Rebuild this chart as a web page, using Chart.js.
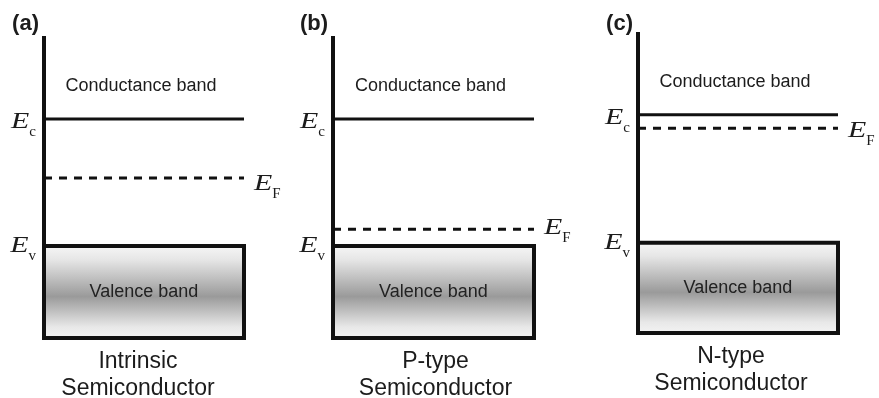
<!DOCTYPE html>
<html>
<head>
<meta charset="utf-8">
<script src="https://cdn.jsdelivr.net/npm/chart.js@4.4.1/dist/chart.umd.min.js"></script>
<style>
  html, body { margin: 0; padding: 0; background: #fff; }
  #wrap { position: relative; width: 879px; height: 398px; overflow: hidden; }
  .panel { position: absolute; }
</style>
</head>
<body>
<div id="wrap"></div>
<script>
// Band-diagram values (energy in arbitrary units, 0 = bottom of the valence band box)
const panelLetters = ['(a)', '(b)', '(c)'];
const semiconductorTypes = ['Intrinsic', 'P-type', 'N-type'];
const captionSecondLine = 'Semiconductor';
const conductionEdge = [7.25, 7.25, 7.25];   // E_c
const fermiLevel = [5.3, 3.6, 6.8];          // E_F
const valenceEdge = [3.05, 3.05, 3.0];       // E_v
const energyMin = 0;
const energyMax = 10;

// Page layout of the three panels (pixels)
const layoutBoxes = [
  { left: 0,   width: 290, pad: { left: 44, right: 46, top: 36, bottom: 60 } },
  { left: 289, width: 290, pad: { left: 44, right: 45, top: 36, bottom: 60 } },
  { left: 579, width: 300, pad: { left: 59, right: 41, top: 32, bottom: 65 } }
];
const captionCenter = [0.47, 0.51, 0.465];
const fermiLabelDrop = [12, 5, 9];
const letterBaseline = 30;

const INK = '#111111';
const TEXT = '#1c1c1c';
const SANS = '"Liberation Sans", Arial, Helvetica, sans-serif';
const SERIF = '"Liberation Serif", "Times New Roman", serif';

// E with a subscript; align 'left' or 'right' relative to x
function drawSymbol(ctx, sub, x, baseline, align) {
  ctx.save();
  ctx.font = 'italic 23px ' + SERIF;
  const stretch = 1.3;
  const wE = ctx.measureText('E').width * stretch;
  ctx.font = '15px ' + SERIF;
  const wS = ctx.measureText(sub).width;
  const total = wE + wS;
  const x0 = align === 'right' ? x - total : x;
  ctx.textAlign = 'left';
  ctx.textBaseline = 'alphabetic';
  ctx.fillStyle = TEXT;
  ctx.save();
  ctx.translate(x0, baseline);
  ctx.scale(stretch, 1);
  ctx.font = 'italic 23px ' + SERIF;
  ctx.fillText('E', 0, 0);
  ctx.restore();
  ctx.font = '15px ' + SERIF;
  ctx.fillText(sub, x0 + wE, baseline + 8);
  ctx.restore();
}

const bandText = {
  id: 'bandText',
  afterDatasetsDraw(chart, args, opts) {
    const i = opts.index;
    const { ctx, chartArea: a, scales: { x, y } } = chart;
    ctx.save();
    ctx.fillStyle = TEXT;

    // panel letter
    ctx.font = 'bold 22px ' + SANS;
    ctx.textAlign = 'right';
    ctx.textBaseline = 'alphabetic';
    ctx.fillText(panelLetters[i], a.left - 5, letterBaseline);

    // band names
    ctx.font = '18px ' + SANS;
    ctx.textAlign = 'center';
    ctx.textBaseline = 'middle';
    const ec = conductionEdge[i];
    ctx.fillText('Conductance band', x.getPixelForValue(0.485),
      y.getPixelForValue(ec + 0.4 * (energyMax - ec)));
    ctx.fillStyle = '#222222';
    ctx.fillText('Valence band', x.getPixelForValue(0.5),
      y.getPixelForValue((valenceEdge[i] + energyMin) / 2));

    // caption under the panel
    ctx.fillStyle = TEXT;
    ctx.font = '23px ' + SANS;
    ctx.textBaseline = 'alphabetic';
    const cx = x.getPixelForValue(captionCenter[i]);
    ctx.fillText(semiconductorTypes[i], cx, a.bottom + 30);
    ctx.fillText(captionSecondLine, cx, a.bottom + 57);
    ctx.restore();

    // energy level symbols
    drawSymbol(ctx, 'c', a.left - 8, y.getPixelForValue(conductionEdge[i]) + 9, 'right');
    drawSymbol(ctx, 'v', a.left - 8, y.getPixelForValue(valenceEdge[i]) + 6, 'right');
    drawSymbol(ctx, 'F', a.right + 10, y.getPixelForValue(fermiLevel[i]) + fermiLabelDrop[i], 'left');
  }
};

function valenceGradient(context, i) {
  const chart = context.chart;
  if (!chart.chartArea) return '#cccccc';
  const ys = chart.scales.y;
  const top = ys.getPixelForValue(valenceEdge[i]);
  const bottom = ys.getPixelForValue(energyMin);
  const g = chart.ctx.createLinearGradient(0, top, 0, bottom);
  g.addColorStop(0.0, '#f6f6f6');
  g.addColorStop(0.15, '#e6e6e6');
  g.addColorStop(0.55, '#9a9a9a');
  g.addColorStop(0.88, '#e8e8e8');
  g.addColorStop(1.0, '#f3f3f3');
  return g;
}

const wrap = document.getElementById('wrap');
layoutBoxes.forEach((box, i) => {
  const div = document.createElement('div');
  div.className = 'panel';
  div.style.left = box.left + 'px';
  div.style.top = '0px';
  div.style.width = box.width + 'px';
  div.style.height = '398px';
  const canvas = document.createElement('canvas');
  div.appendChild(canvas);
  wrap.appendChild(div);

  const ec = conductionEdge[i], ef = fermiLevel[i], ev = valenceEdge[i];
  const lineBase = { showLine: true, pointRadius: 0, fill: false, clip: false,
                     borderColor: INK, borderCapStyle: 'butt', borderJoinStyle: 'miter', tension: 0 };

  new Chart(canvas, {
    type: 'line',
    data: {
      datasets: [
        // energy axis
        Object.assign({}, lineBase, { label: 'Energy', order: 1, borderWidth: 4,
          data: [{ x: 0, y: energyMin }, { x: 0, y: energyMax }] }),
        // conduction band edge
        Object.assign({}, lineBase, { label: 'Ec', order: 2, borderWidth: 3,
          data: [{ x: 0, y: ec }, { x: 1, y: ec }] }),
        // Fermi level
        Object.assign({}, lineBase, { label: 'EF', order: 3, borderWidth: 3, borderDash: [8, 7],
          data: [{ x: 0, y: ef }, { x: 1, y: ef }] }),
        // valence band outline
        Object.assign({}, lineBase, { label: 'Ev outline', order: 4, borderWidth: 4,
          data: [{ x: 0, y: ev }, { x: 1, y: ev }, { x: 1, y: energyMin }, { x: 0, y: energyMin }, { x: 0, y: ev }] }),
        // valence band fill
        Object.assign({}, lineBase, { label: 'Ev fill', order: 10, borderWidth: 0,
          fill: 'origin', backgroundColor: (c) => valenceGradient(c, i),
          data: [{ x: 0, y: ev }, { x: 1, y: ev }] })
      ]
    },
    options: {
      responsive: true,
      maintainAspectRatio: false,
      animation: false,
      events: [],
      layout: { padding: box.pad },
      scales: {
        x: { type: 'linear', min: 0, max: 1, display: false },
        y: { type: 'linear', min: energyMin, max: energyMax, display: false }
      },
      plugins: {
        legend: { display: false },
        tooltip: { enabled: false },
        bandText: { index: i }
      }
    },
    plugins: [bandText]
  });
});
</script>
</body>
</html>
